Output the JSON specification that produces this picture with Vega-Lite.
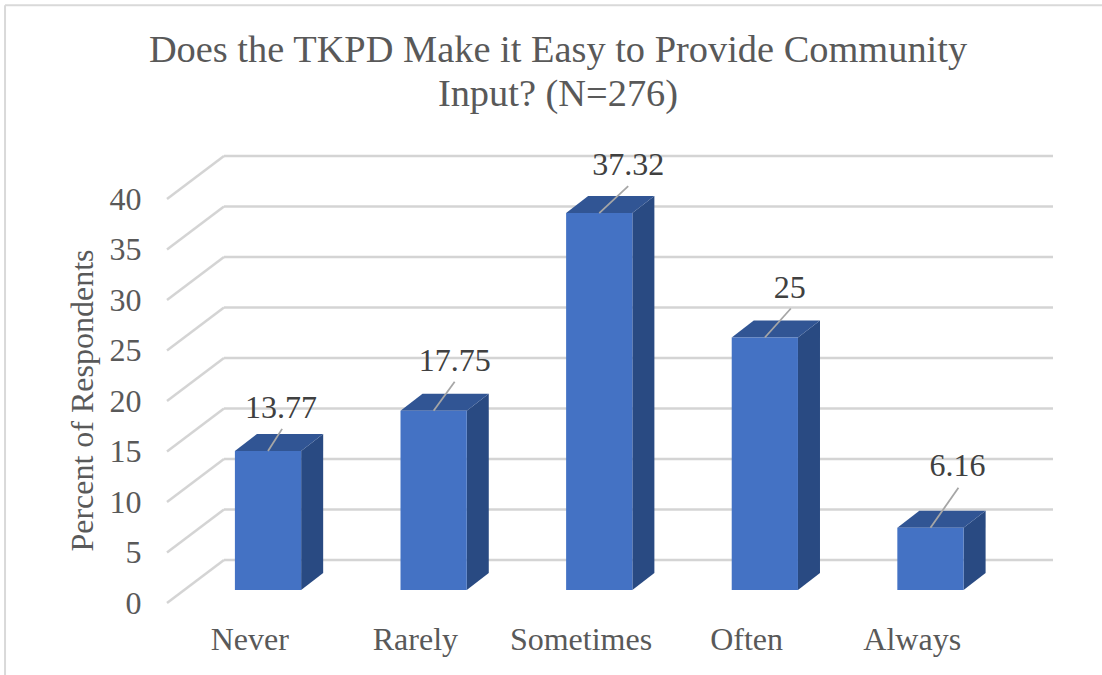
{
"$schema":"https://vega.github.io/schema/vega-lite/v6.json",
"width":886,"height":448,
"autosize":{"type":"none"},
"padding":{"left":167,"top":155,"right":49,"bottom":72},
"background":"white",
"config":{"view":{"stroke":null},"font":"Liberation Serif"},
"resolve":{"axis":{"y":"independent","x":"independent"}},
"title":{"text":["Does the TKPD Make it Easy to Provide Community","Input? (N=276)"],"anchor":"middle","frame":"group","dx":-52,"offset":-110,"fontSize":38.4,"lineHeight":43.5,"font":"Liberation Serif","fontWeight":"normal","color":"#595959"},
"datasets":{
"bars":[{"category":"Never","percent":13.77},{"category":"Rarely","percent":17.75},{"category":"Sometimes","percent":37.32},{"category":"Often","percent":25},{"category":"Always","percent":6.16}],
"ticks":[{"tick":0},{"tick":5},{"tick":10},{"tick":15},{"tick":20},{"tick":25},{"tick":30},{"tick":35},{"tick":40}]
},
"layer":[
{"data":{"values":[{"edge":"left"}]},"mark":{"type":"rule","stroke":"#d9d9d9","strokeWidth":2},
 "encoding":{"x":{"datum":-0.978,"type":"quantitative","scale":{"domain":[0,5.35],"nice":false,"zero":false},"axis":null},"y":{"datum":-7.2,"type":"quantitative","scale":{"domain":[0,44.36],"nice":false,"zero":false},
   "axis":{"values":[0,5,10,15,20,25,30,35,40],"ticks":false,"domain":false,"grid":false,"labelPadding":26,"labelFontSize":32,"labelFont":"Liberation Serif","labelColor":"#595959","title":"Percent of Respondents","titleFont":"Liberation Serif","titleFontSize":32,"titleFontWeight":"normal","titleColor":"#595959","titleX":-68,"titleY":245}},"y2":{"datum":59.2}}},
{"data":{"values":[{"edge":"top"}]},"mark":{"type":"rule","stroke":"#d9d9d9","strokeWidth":2},
 "encoding":{"x":{"datum":-0.978,"type":"quantitative","scale":{"domain":[0,5.35],"nice":false,"zero":false},"axis":null},"x2":{"datum":5.65},"y":{"datum":59.2,"type":"quantitative","scale":{"domain":[0,44.36],"nice":false,"zero":false},"axis":null}}},
{"data":{"name":"ticks"},
 "transform":[{"calculate":"datum.tick+4.26","as":"back"}],
 "mark":{"type":"rule","stroke":"#d4d4d4","strokeWidth":2.5},
 "encoding":{"x":{"datum":0,"type":"quantitative","scale":{"domain":[0,5.35],"nice":false,"zero":false},"axis":null},"x2":{"datum":0.344},"y":{"field":"tick","type":"quantitative","scale":{"domain":[0,44.36],"nice":false,"zero":false},"axis":null},"y2":{"field":"back"}}},
{"data":{"name":"ticks"},
 "transform":[{"calculate":"datum.tick+4.26","as":"back"}],
 "mark":{"type":"rule","stroke":"#d4d4d4","strokeWidth":2.5},
 "encoding":{"x":{"datum":0.344,"type":"quantitative","scale":{"domain":[0,5.35],"nice":false,"zero":false},"axis":null},"x2":{"datum":5.35},"y":{"field":"back","type":"quantitative","scale":{"domain":[0,44.36],"nice":false,"zero":false},"axis":null}}},
{"data":{"name":"bars"},
 "transform":[{"window":[{"op":"row_number","as":"n"}]},{"calculate":"datum.n-1+0.41","as":"left"},{"calculate":"datum.left+0.4","as":"right"},{"calculate":"[0,1]","as":"edge"},{"flatten":["edge"]},{"calculate":"datum.right+datum.edge*0.133","as":"sx"},{"calculate":"1.29+datum.edge*1.68","as":"low"},{"calculate":"1.29+datum.percent+datum.edge*1.68","as":"high"}],
 "mark":{"type":"area","fill":"#294a82","line":false,"orient":"vertical"},
 "encoding":{"detail":{"field":"category"},"x":{"field":"sx","type":"quantitative","scale":{"domain":[0,5.35],"nice":false,"zero":false},"axis":null},"y":{"field":"high","type":"quantitative","scale":{"domain":[0,44.36],"nice":false,"zero":false},"axis":null,"stack":null},"y2":{"field":"low"}}},
{"data":{"name":"bars"},
 "transform":[{"window":[{"op":"row_number","as":"n"}]},{"calculate":"datum.n-1+0.41","as":"left"},{"calculate":"[0,1]","as":"edge"},{"flatten":["edge"]},{"calculate":"datum.left+datum.edge*0.133","as":"tl"},{"calculate":"datum.tl+0.4","as":"tr"},{"calculate":"1.29+datum.percent+datum.edge*1.68","as":"ty"}],
 "mark":{"type":"area","fill":"#315594","line":false,"orient":"horizontal"},
 "encoding":{"detail":{"field":"category"},"y":{"field":"ty","type":"quantitative","scale":{"domain":[0,44.36],"nice":false,"zero":false},"axis":null},"x":{"field":"tl","type":"quantitative","scale":{"domain":[0,5.35],"nice":false,"zero":false},"axis":null,"stack":null},"x2":{"field":"tr"}}},
{"data":{"name":"bars"},
 "transform":[{"window":[{"op":"row_number","as":"n"}]},{"calculate":"datum.n-1+0.41","as":"left"},{"calculate":"datum.left+0.4","as":"right"},{"calculate":"1.29+datum.percent","as":"top"},{"calculate":"1.29","as":"base"}],
 "mark":{"type":"rect","fill":"#4472c4"},
 "encoding":{"x":{"field":"left","type":"quantitative","scale":{"domain":[0,5.35],"nice":false,"zero":false},"axis":null},"x2":{"field":"right"},"y":{"field":"top","type":"quantitative","scale":{"domain":[0,44.36],"nice":false,"zero":false},"axis":null},"y2":{"field":"base"}}},
{"data":{"name":"bars"},
 "transform":[{"window":[{"op":"row_number","as":"n"}]},{"calculate":"datum.n-1+0.61","as":"sx"},{"calculate":"1.29+datum.percent","as":"sy"},{"calculate":"datum.sx+[0.085,0.127,0.175,0.157,0.169][datum.n-1]","as":"ex"},{"calculate":"datum.sy+[2.18,2.87,2.67,2.87,3.96][datum.n-1]","as":"ey"}],
 "mark":{"type":"rule","stroke":"#a6a6a6","strokeWidth":1.8},
 "encoding":{"x":{"field":"sx","type":"quantitative","scale":{"domain":[0,5.35],"nice":false,"zero":false},"axis":null},"x2":{"field":"ex"},"y":{"field":"sy","type":"quantitative","scale":{"domain":[0,44.36],"nice":false,"zero":false},"axis":null},"y2":{"field":"ey"}}},
{"data":{"name":"bars"},
 "transform":[{"window":[{"op":"row_number","as":"n"}]},{"calculate":"datum.n-1+0.61+[0.079,0.127,0.175,0.151,0.163][datum.n-1]","as":"lx"},{"calculate":"1.29+datum.percent+[4.26,4.95,4.75,4.95,6.14][datum.n-1]","as":"ly"}],
 "mark":{"type":"text","fontSize":32,"font":"Liberation Serif","color":"#404040","baseline":"middle","align":"center"},
 "encoding":{"x":{"field":"lx","type":"quantitative","scale":{"domain":[0,5.35],"nice":false,"zero":false},"axis":null},"y":{"field":"ly","type":"quantitative","scale":{"domain":[0,44.36],"nice":false,"zero":false},"axis":null},"text":{"field":"percent","type":"quantitative"}}},
{"data":{"name":"bars"},
 "transform":[{"window":[{"op":"row_number","as":"n"}]},{"calculate":"datum.n-0.5","as":"slot"}],
 "mark":{"type":"text","fontSize":32,"font":"Liberation Serif","color":"#595959","baseline":"middle","align":"center"},
 "encoding":{"x":{"field":"slot","type":"quantitative","scale":{"domain":[0,5.35],"nice":false,"zero":false},"axis":null},"y":{"datum":-3.66,"type":"quantitative","scale":{"domain":[0,44.36],"nice":false,"zero":false},"axis":null},"text":{"field":"category","type":"nominal"}}}
]
}
